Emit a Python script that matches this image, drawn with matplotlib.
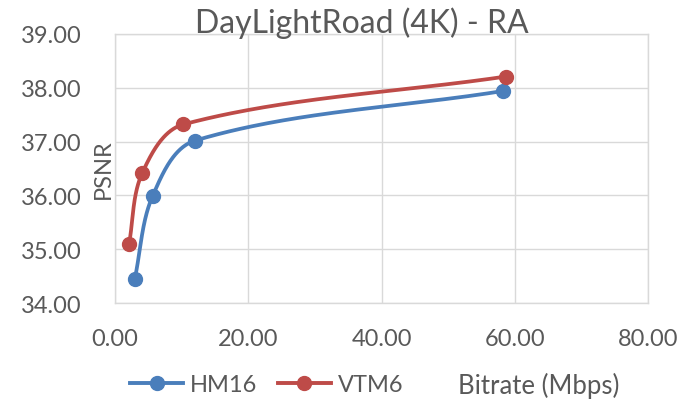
import numpy as np
import matplotlib
matplotlib.use("Agg")
import matplotlib.pyplot as plt
from matplotlib.lines import Line2D

# ---- data ----
title = "DayLightRoad (4K) - RA"
series_names = ["HM16", "VTM6"]
hm16_rate = [2.97, 5.65, 12.05, 58.2]
hm16_psnr = [34.45, 35.99, 37.02, 37.94]
vtm6_rate = [2.1, 4.07, 10.27, 58.7]
vtm6_psnr = [35.09, 36.41, 37.32, 38.21]
x_ticks = [0, 20, 40, 60, 80]
y_ticks = [34, 35, 36, 37, 38, 39]
x_label = "Bitrate (Mbps)"
y_label = "PSNR"

colors = ["#4A7EBB", "#BE4B48"]
grid_c = "#D9D9D9"
text_c = "#595959"

plt.rcParams['font.family'] = ['Lato', 'DejaVu Sans']
FS = 17

fig = plt.figure(figsize=(6.9, 4.02), dpi=100)
ax = fig.add_axes([115 / 690, 1 - 304 / 402, 533 / 690, 269 / 402])
ax.set_xlim(0, 80)
ax.set_ylim(34, 39)

# px per unit, to smooth in screen-like space
sx = 533 / 80.0
sy = 269 / 5.0


def smooth(xs, ys, n=80, k=0.33):
    P = np.column_stack([np.array(xs) * sx, np.array(ys) * sy])
    m = len(P)
    tang = []
    for i in range(m):
        a = P[max(i - 1, 0)]
        b = P[min(i + 1, m - 1)]
        d = b - a
        tang.append(d / np.linalg.norm(d))
    out = []
    for i in range(m - 1):
        p1, p2 = P[i], P[i + 1]
        L = np.linalg.norm(p2 - p1)
        c1 = p1 + tang[i] * L * k
        c2 = p2 - tang[i + 1] * L * k
        u = np.linspace(0, 1, n)[:, None]
        seg = ((1 - u) ** 3) * p1 + 3 * ((1 - u) ** 2) * u * c1 + 3 * (1 - u) * u ** 2 * c2 + u ** 3 * p2
        out.append(seg if i == 0 else seg[1:])
    S = np.vstack(out)
    return S[:, 0] / sx, S[:, 1] / sy


for xs, ys, c in [(hm16_rate, hm16_psnr, colors[0]), (vtm6_rate, vtm6_psnr, colors[1])]:
    cx, cy = smooth(xs, ys)
    ax.plot(cx, cy, color=c, lw=2.7, solid_capstyle='round', zorder=3)
    ax.plot(xs, ys, 'o', color=c, ms=10, zorder=4)

ax.set_xticks(x_ticks)
ax.set_yticks(y_ticks)
ax.set_xticklabels([f"{v:.2f}" for v in x_ticks])
ax.set_yticklabels([f"{v:.2f}" for v in y_ticks])
ax.tick_params(axis='both', length=0, labelsize=FS, colors=text_c)
ax.tick_params(axis='x', pad=18)
ax.tick_params(axis='y', pad=24)
ax.grid(True, color=grid_c, lw=1.0)
ax.set_axisbelow(True)
for s in ax.spines.values():
    s.set_color(grid_c)
    s.set_linewidth(1.0)

ax.text(-12 / 533, 0.5, y_label, transform=ax.transAxes, rotation=90,
        ha='center', va='center', fontsize=FS, color=text_c)

fig.text(362 / 690, 1 - 33 / 402, title, ha='center', va='baseline', fontsize=23, color=text_c)

handles = [Line2D([0], [0], color=colors[i], lw=2.8, marker='o', ms=10) for i in range(2)]
leg = fig.legend(handles, series_names, loc='center left', bbox_to_anchor=(130 / 690, 1 - 386 / 402),
                 ncol=2, frameon=False, fontsize=FS, handlelength=2.25,
                 handletextpad=0.3, columnspacing=0.85, borderaxespad=0, borderpad=0)
for t in leg.get_texts():
    t.set_color(text_c)

fig.text(458 / 690, 1 - 386 / 402, x_label, ha='left', va='center', fontsize=18.5, color=text_c)

fig.savefig("out.png", dpi=100)
